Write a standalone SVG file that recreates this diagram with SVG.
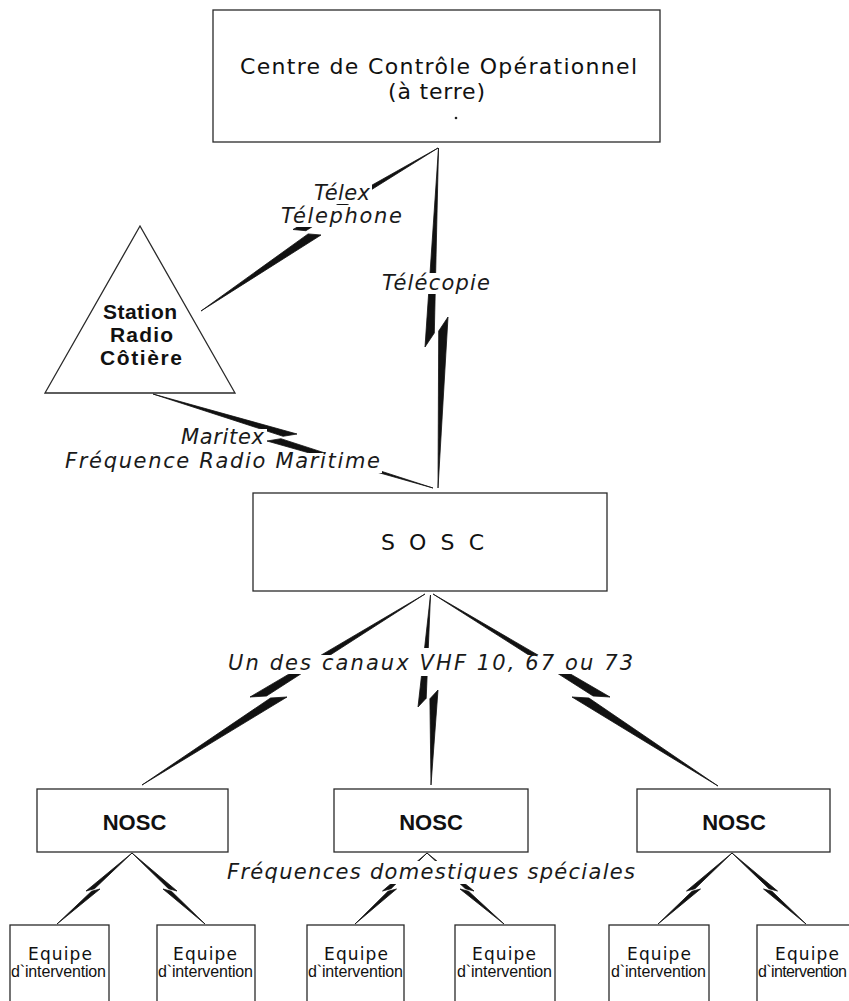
<svg xmlns="http://www.w3.org/2000/svg" width="849" height="1001" viewBox="0 0 849 1001">
<style>
.box{fill:#fff;stroke:#2a2a2a;stroke-width:1.3}
.bolt{fill:#111;stroke:#111;stroke-width:0.8;stroke-linejoin:round}
.t{font-family:"DejaVu Sans","Liberation Sans",sans-serif;fill:#111}
.b{font-family:"Liberation Sans","DejaVu Sans",sans-serif;font-weight:bold;fill:#111}
.it{font-family:"DejaVu Sans","Liberation Sans",sans-serif;font-style:italic;font-size:21px;fill:#1a1a1a}
.eq{font-family:"DejaVu Sans","Liberation Sans",sans-serif;font-size:17px;fill:#111}
.di{font-family:"Liberation Sans","Arial",sans-serif;font-size:16px;fill:#111}
</style>
<defs>
<mask id="txtmask" maskUnits="userSpaceOnUse" x="0" y="0" width="849" height="1001">
<rect x="0" y="0" width="849" height="1001" fill="#fff"/>
<g fill="#000">
<rect x="312" y="183" width="60" height="21"/>
<rect x="279" y="205" width="125" height="22"/>
<rect x="380" y="273" width="112" height="21"/>
<rect x="178" y="429" width="89" height="18"/>
<rect x="63" y="449" width="218" height="25"/>
<rect x="284" y="453" width="98" height="20"/>
<rect x="226" y="655" width="410" height="19"/>
<rect x="414" y="648" width="30" height="28"/>
<rect x="225" y="861" width="412" height="23"/>
</g>
</mask>
</defs>
<rect x="0" y="0" width="849" height="1001" fill="#fff"/>

<g id="connectors" mask="url(#txtmask)">
<g id="c-telex"><polygon class="bolt" points="201,311 321,235 308.1,233.9"/><polygon class="bolt" points="293,229.5 438,148 305.9,230.7"/></g>
<g id="c-telecopie"><polygon class="bolt" points="438.5,148 425,347 434.3,333"/><polygon class="bolt" points="448,317 438,488 438.7,331"/></g>
<g id="c-maritex"><polygon class="bolt" points="153,394 297,434 283.1,436.3"/><polygon class="bolt" points="267,441 433,488 280.9,438.7"/></g>
<g id="c-sosc-left"><polygon class="bolt" points="425,594 250,697 266.5,696"/><polygon class="bolt" points="287,697 142,785 270.5,698"/></g>
<g id="c-sosc-mid"><polygon class="bolt" points="430.5,595 418,707 426.2,698.2"/><polygon class="bolt" points="438,690 431,785 429.9,698.8"/></g>
<g id="c-sosc-right"><polygon class="bolt" points="433,594 610,697 593.1,696"/><polygon class="bolt" points="572,697 718,786 588.9,698"/></g>
<g id="c-n1a"><polygon class="bolt" points="132,853 86,891 94.5,888.7"/><polygon class="bolt" points="100,889 57,924 91.5,891.3"/></g>
<g id="c-n1b"><polygon class="bolt" points="132,853 177,891 168.5,888.7"/><polygon class="bolt" points="163,889 205,924 171.5,891.3"/></g>
<g id="c-n2a"><polygon class="bolt" points="427,853 382.5,891 391,888.7"/><polygon class="bolt" points="396.5,889 355,924 388,891.3"/></g>
<g id="c-n2b"><polygon class="bolt" points="427,853 474,891 465.4,888.7"/><polygon class="bolt" points="460,889 504,924 468.6,891.3"/></g>
<g id="c-n3a"><polygon class="bolt" points="732,853 686.5,891 695,888.7"/><polygon class="bolt" points="700.5,889 658,924 692,891.3"/></g>
<g id="c-n3b"><polygon class="bolt" points="732,853 777.5,891 769,888.7"/><polygon class="bolt" points="763.5,889 806,924 772,891.3"/></g>
</g>

<g id="labels">
<text class="it" x="314" y="200" textLength="56">Télex</text>
<text class="it" x="281" y="223" textLength="121">Télephone</text>
<text class="it" x="382" y="290" textLength="108">Télécopie</text>
<text class="it" x="181" y="444" textLength="83">Maritex</text>
<text class="it" x="65" y="468" textLength="315">Fréquence Radio Maritime</text>
<text class="it" x="228" y="670" textLength="405">Un des canaux VHF 10, 67 ou 73</text>
<text class="it" x="227" y="879" textLength="408">Fréquences domestiques spéciales</text>
</g>

<g id="n-centre">
<rect class="box" x="213" y="10" width="447" height="132"/>
<text class="t" x="240" y="74" font-size="22" textLength="397">Centre de Contrôle Opérationnel</text>
<text class="t" x="388" y="99" font-size="22" textLength="97">(à terre)</text>
<circle cx="456" cy="118" r="1.3" fill="#222"/>
</g>

<g id="n-station">
<polygon class="box" points="140,226 45,393 235,393"/>
<text class="b" x="103" y="319" font-size="21" textLength="74">Station</text>
<text class="b" x="110" y="342" font-size="21" textLength="63">Radio</text>
<text class="b" x="100" y="365" font-size="21" textLength="82">Côtière</text>
</g>

<g id="n-sosc">
<rect class="box" x="253" y="493" width="354" height="98"/>
<text class="t" x="381" y="550" font-size="22" textLength="103">S O S C</text>
</g>

<g id="n-nosc1">
<rect class="box" x="37" y="789" width="191" height="63"/>
<text class="b" x="134.5" y="830" font-size="22" text-anchor="middle">NOSC</text>
</g>
<g id="n-nosc2">
<rect class="box" x="334" y="789" width="194" height="63"/>
<text class="b" x="431" y="830" font-size="22" text-anchor="middle">NOSC</text>
</g>
<g id="n-nosc3">
<rect class="box" x="637" y="789" width="193" height="63"/>
<text class="b" x="734" y="830" font-size="22" text-anchor="middle">NOSC</text>
</g>

<g id="n-eq1">
<rect class="box" x="10" y="925" width="99" height="82"/>
<text class="eq" x="28" y="960" textLength="64">Equipe</text>
<text class="di" x="11" y="977" textLength="95">d`intervention</text>
</g>
<g id="n-eq2">
<rect class="box" x="157" y="925" width="98" height="82"/>
<text class="eq" x="173" y="960" textLength="64">Equipe</text>
<text class="di" x="158" y="977" textLength="95">d`intervention</text>
</g>
<g id="n-eq3">
<rect class="box" x="307" y="925" width="97" height="82"/>
<text class="eq" x="324" y="960" textLength="64">Equipe</text>
<text class="di" x="308" y="977" textLength="95">d`intervention</text>
</g>
<g id="n-eq4">
<rect class="box" x="455" y="925" width="100" height="82"/>
<text class="eq" x="472" y="960" textLength="64">Equipe</text>
<text class="di" x="457" y="977" textLength="95">d`intervention</text>
</g>
<g id="n-eq5">
<rect class="box" x="609" y="925" width="100" height="82"/>
<text class="eq" x="627" y="960" textLength="64">Equipe</text>
<text class="di" x="611" y="977" textLength="95">d`intervention</text>
</g>
<g id="n-eq6">
<rect class="box" x="757" y="925" width="100" height="82"/>
<text class="eq" x="775" y="960" textLength="64">Equipe</text>
<text class="di" x="758" y="977" textLength="89">d`intervention</text>
</g>
</svg>
